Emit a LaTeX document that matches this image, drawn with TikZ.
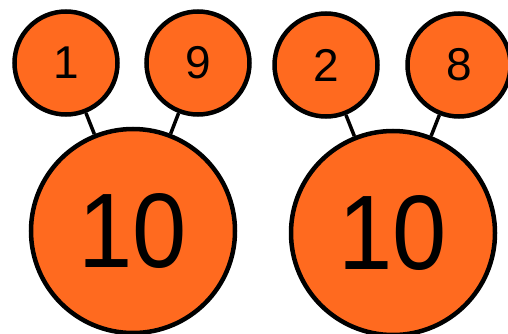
\documentclass[tikz,border=0pt]{standalone}
\usepackage{fontspec}
\setmainfont{Liberation Sans}
\usepackage{tikz}
\usetikzlibrary{positioning}
\definecolor{cOrange}{HTML}{FF6A1F}
\definecolor{cInk}{HTML}{000000}
\tikzset{
  part/.style={circle, draw=cInk, line width=4.5pt, fill=cOrange,
               minimum size=103pt, inner sep=0pt,
               font=\fontsize{46}{46}\selectfont},
  whole/.style={part, minimum size=204pt, font=\fontsize{106}{106}\selectfont},
  bond/.style={cInk, line width=3.5pt}
}
\begin{document}
\begin{tikzpicture}[x=1pt, y=-1pt]
\useasboundingbox (0,0) rectangle (508,334);
% left bond: 1 + 9
\node[whole] (w1) at (133,231) {\scalebox{0.92}[1]{10}};
\node[part] (p1) at (66,63) {1};
\node[part] (p9) at (198,63) {9};
% right bond: 2 + 8
\node[whole] (w2) at (393,233) {\scalebox{0.92}[1]{10}};
\node[part] (p2) at (326,65) {2};
\node[part] (p8) at (459,65) {8};
\foreach \a/\b in {p1/w1,p9/w1,p2/w2,p8/w2}
  \draw[bond] (\a) -- (\b);
\end{tikzpicture}
\end{document}
